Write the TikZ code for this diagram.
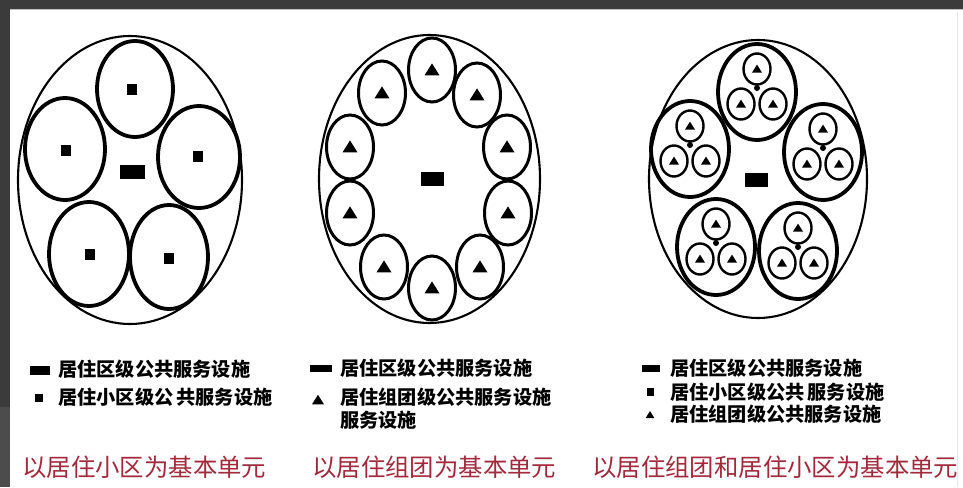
\documentclass[tikz,border=0pt]{standalone}
\usepackage{fontspec}
\newfontfamily\cjk{Noto Sans CJK SC}
\definecolor{bandgray}{HTML}{3B3B3B}
\definecolor{bandgray2}{HTML}{4C4C4C}
\definecolor{captionred}{HTML}{A32A3C}
\tikzset{
  outerring/.style={line width=2.1pt},
  unitring/.style={line width=3.8pt},
  groupring/.style={line width=3.0pt},
  minoring/.style={line width=2.4pt},
  legendtext/.style={anchor=west, inner sep=0pt, font=\cjk\bfseries\fontsize{19.2}{21}\selectfont},
  captiontext/.style={anchor=west, inner sep=0pt, text=captionred, font=\cjk\fontsize{24.4}{27}\selectfont},
}
\newcommand{\tria}[3]{\fill ({#1-#3/2},{#2+#3*0.36}) -- ({#1+#3/2},{#2+#3*0.36}) -- ({#1},{#2-#3*0.44}) -- cycle;}
\newcommand{\blk}[4]{\fill ({#1-#3/2},{#2-#4/2}) rectangle ({#1+#3/2},{#2+#4/2});}
\begin{document}
\begin{tikzpicture}[x=1pt,y=-1pt]
\useasboundingbox (0,0) rectangle (963,487);
\fill[white] (0,0) rectangle (963,487);
% frame bands
\fill[bandgray] (0,0) rectangle (963,9.5);
\fill[black!25] (10,9.5) rectangle (963,10.5);
\fill[bandgray] (0,0) rectangle (10,407);
\fill[bandgray2] (0,407) rectangle (10,487);
\draw[black!10, line width=1pt] (957,12) -- (957,487);

% ---------- diagram 1 ----------
\draw[outerring] (130,180) ellipse [x radius=112, y radius=144];
\foreach \cx/\cy/\rx/\ry/\sx/\sy in {135/89/38/48/132/89, 65/149/40/51/66/150, 199/157/41/51/198/156, 89/254/40/52/90/254, 169/257/39/52/169/258}{
  \draw[unitring] (\cx,\cy) ellipse [x radius=\rx, y radius=\ry];
  \blk{\sx}{\sy}{10}{11}
}
\blk{132}{172}{25}{14}

% ---------- diagram 2 ----------
\draw[outerring] (429.5,179) ellipse [x radius=110.5, y radius=144];
\foreach \cx/\cy in {432/70, 382/93, 477/95, 350/147, 507/147, 350/213, 508/213, 384/267, 480/267, 432/288}{
  \draw[groupring] (\cx,\cy) ellipse [x radius=23.5, y radius=32];
  \tria{\cx}{\cy}{15}
}
\blk{432}{179}{23}{14}

% ---------- diagram 3 ----------
\draw[outerring] (758,179) ellipse [x radius=109, y radius=139];
\foreach \cx/\cy in {757/92, 690/149, 823/152, 716/247, 798/251}{
  \draw[unitring] (\cx,\cy) ellipse [x radius=39, y radius=48];
  \fill (\cx,{\cy-4}) circle [radius=3];
  \foreach \dx/\dy in {0/-23, -16/12, 16/12}{
    \draw[minoring] ({\cx+\dx},{\cy+\dy}) ellipse [x radius=13.5, y radius=15.5];
    \tria{\cx+\dx}{\cy+\dy}{10}
  }
}
\blk{756}{180}{23}{14}

% ---------- legends ----------
\blk{40}{370}{20}{9}
\node[legendtext] (l1a) at (58,369) {居住区级公共服务设施};
\blk{38.5}{398}{8}{8}
\node[legendtext] (l1b) at (58,397) {居住小区级公\,共服务设施};
\node[captiontext] (c1) at (22,467) {以居住小区为基本单元};

\blk{321}{368}{22}{7}
\node[legendtext] (l2a) at (340,368) {居住区级公共服务设施};
\tria{318}{400}{12}
\node[legendtext] (l2b) at (340,397) {居住组团级公共服务设施};
\node[legendtext] (l2c) at (340,420) {服务设施};
\node[captiontext] (c2) at (312,467) {以居住组团为基本单元};

\blk{651}{368}{18}{7}
\node[legendtext] (l3a) at (670,368) {居住区级公共服务设施};
\blk{650}{392}{7}{8}
\node[legendtext] (l3b) at (670,392) {居住小区级公共\,服务设施};
\tria{650}{415}{9}
\node[legendtext] (l3c) at (670,414) {居住组团级公共服务设施};
\node[captiontext] (c3) at (592,467) {以居住组团和居住小区为基本单元};
\end{tikzpicture}
\end{document}
